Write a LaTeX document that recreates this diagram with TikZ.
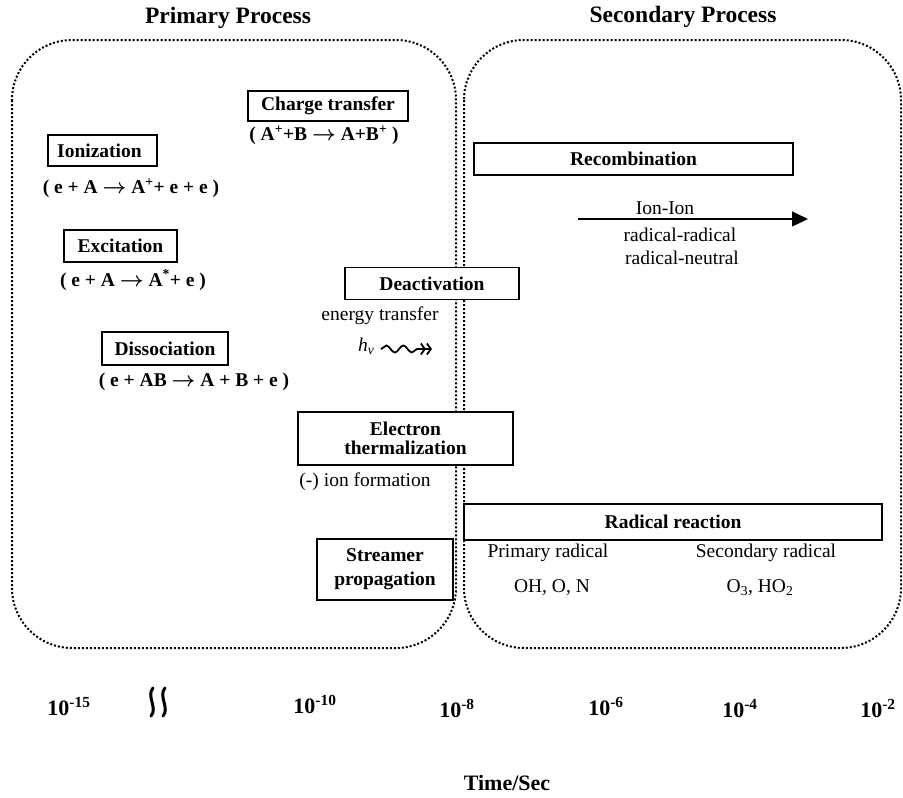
\documentclass[tikz,border=0pt]{standalone}
\usepackage{fontspec}
\setmainfont{Liberation Serif}
\usepackage{tikz}
\usetikzlibrary{arrows.meta}
\usetikzlibrary{decorations.pathmorphing}
\usetikzlibrary{positioning}

\begin{document}
\begin{tikzpicture}[x=1pt, y=-1pt]
  \pgfmathsetmacro{\BW}{1.8}
\tikzset{
  procbox/.style={draw, fill=white, line width=\BW pt, align=center, inner sep=0pt,
    font=\bfseries\fontsize{19.5}{19}\selectfont},
  eqn/.style={align=center, font=\bfseries\boldmath\fontsize{19.5}{22}\selectfont},
  plain/.style={align=center, font=\fontsize{19.5}{22}\selectfont},
  head/.style={font=\bfseries\fontsize{23.5}{26}\selectfont},
  tick/.style={anchor=base, font=\bfseries\fontsize{22}{24}\selectfont},
  squiggle/.style={line width=3pt, line cap=round},
  region/.style={dotted, line width=2pt, rounded corners=60pt},
}
%
\useasboundingbox (0,0) rectangle (903,798);

       \node [head] (prim) at (228, 18) {Primary Process};
       \node [head] (sec) at (683, 17) {Secondary Process};

       \draw [region] (12, 40) rectangle (456, 648);
       \draw [region] (464, 40) rectangle (901, 648);

       % primary process
       \node [procbox, minimum width=160, minimum height=30] (charge)
       at (328, 106) {Charge transfer};
       \node [eqn] (chargeq) at (324, 135)
       {( A\textsuperscript{+}+B $\rightarrow$ A+B\textsuperscript{+} )};

       \node [procbox, minimum width=109, minimum height=31] (ion)
       at (102.5, 150.5) {\hspace*{-6pt}Ionization};
       \node [eqn] (ioneq) at (131, 188)
       {( e + A $\rightarrow$ A\textsuperscript{+}+ e + e )};

       \node [procbox, minimum width=113, minimum height=32] (exc)
       at (120.5, 246) {Excitation};
       \node [eqn] (exceq) at (133, 280)
       {( e + A $\rightarrow$ A\textsuperscript{*}+ e )};

       \node [procbox, minimum width=126, minimum height=33] (diss)
       at (165, 348.5) {Dissociation};
       \node [eqn] (disseq) at (194, 382)
       {( e + AB $\rightarrow$ A + B + e )};

       \node [procbox, minimum width=174, minimum height=32] (deact)
       at (432, 283.5) {Deactivation};
       \node [plain] (entr) at (380, 316) {energy transfer};
       \node [plain, anchor=east] (hv) at (378, 346)
       {\textit{h}\textsubscript{\textit{v}}};
       \coordinate (wvs) at (381, 349);
       \coordinate (wve) at (432, 349);

       \node [procbox, minimum width=215, minimum height=53] (etherm)
       at (405.5, 438.5) {Electron\\thermalization};
       \node [plain] (ionf) at (365, 482) {(-) ion formation};

       \node [procbox, minimum width=136, minimum height=61,
       font=\bfseries\fontsize{19.5}{24}\selectfont] (stream)
       at (385, 569.5) {Streamer\\propagation};

       % secondary process
       \node [procbox, minimum width=319, minimum height=32] (recomb)
       at (633.5, 159) {Recombination};
       \coordinate (rcs) at (578, 219);
       \coordinate (rce) at (808, 219);
       \node [plain] (ionion) at (665, 208) {Ion-Ion};
       \node [plain] (radrad) at (680, 235) {radical-radical};
       \node [plain] (radneu) at (682, 258) {radical-neutral};

       \node [procbox, minimum width=418, minimum height=36] (radreact)
       at (673, 522) {Radical reaction};
       \node [plain] (primrad) at (548, 553) {Primary radical};
       \node [plain] (secrad) at (766, 553) {Secondary radical};
       \node [plain] (primsp) at (552, 588) {OH, O, N};
       \node [plain] (secsp) at (760, 588)
       {O\textsubscript{3}, HO\textsubscript{2}};

       \draw [-{Triangle[length=16pt, width=15pt]}, line width=1.2pt]
       (rcs) -- (rce);
       \draw [-{Straight Barb[length=4pt, width=11pt] Straight Barb[length=4pt, width=11pt]},
       line width=1.8pt, decorate, decoration={snake, amplitude=3.5pt,
       segment length=17pt, post length=9pt}] (wvs) -- (wve);

       % time axis
       \node [tick] (t15) at (69, 715) {10\textsuperscript{-15}};
       \foreach \sx in {152, 164}
         \draw [squiggle] (\sx+1, 688) .. controls (\sx-6, 696) and (\sx+6, 708)
         .. (\sx-1, 716);
       \node [tick] (t10) at (315, 713) {10\textsuperscript{-10}};
       \node [tick] (t8) at (457, 717) {10\textsuperscript{-8}};
       \node [tick] (t6) at (606, 715) {10\textsuperscript{-6}};
       \node [tick] (t4) at (740, 717) {10\textsuperscript{-4}};
       \node [tick] (t2) at (878, 717) {10\textsuperscript{-2}};

       \node [tick] (tsec) at (507, 790) {Time/Sec};

\end{tikzpicture}
\end{document}
